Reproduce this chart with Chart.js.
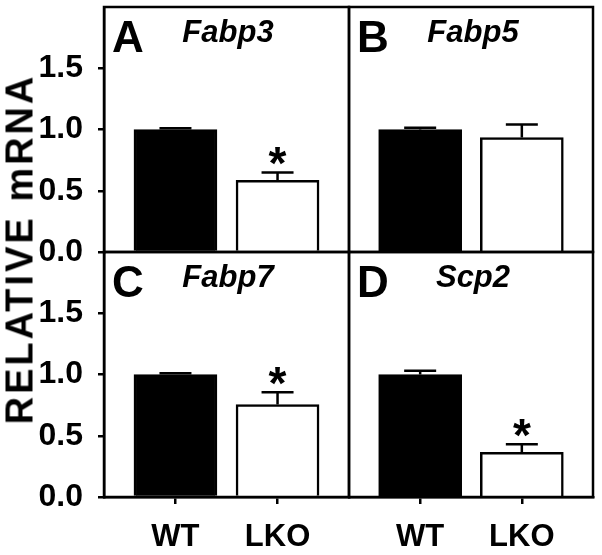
<!DOCTYPE html>
<html>
<head>
<meta charset="utf-8">
<script src="https://cdn.jsdelivr.net/npm/chart.js@4/dist/chart.umd.min.js"></script>
<style>
  html, body { margin: 0; padding: 0; background: #fff; }
  #wrap { position: relative; width: 602px; height: 555px; overflow: hidden; }
  #wrap canvas { position: absolute; }
  #ytitle {
    position: absolute; left: 20px; top: 249px;
    transform: translate(-50%, -50%) rotate(-90deg);
    font: bold 38px "Liberation Sans", Arial, sans-serif;
    letter-spacing: 3px; white-space: nowrap; color: #000;
  }
</style>
</head>
<body>
<div id="wrap">
  <canvas id="pA" width="351" height="272" style="left:0;top:0"></canvas>
  <canvas id="pB" width="248" height="254" style="left:347px;top:0"></canvas>
  <canvas id="pC" width="351" height="305" style="left:0;top:250px"></canvas>
  <canvas id="pD" width="248" height="305" style="left:347px;top:250px"></canvas>
  <div id="ytitle">RELATIVE mRNA</div>
</div>
<script>
'use strict';

// ── Data ─────────────────────────────────────────────
const categories = ['WT', 'LKO'];
const panelLetters = ['A', 'B', 'C', 'D'];
const geneNames = ['Fabp3', 'Fabp5', 'Fabp7', 'Scp2'];
const wtMean  = [1.0, 1.0, 1.0, 1.0];
const wtSem   = [0.01, 0.015, 0.01, 0.03];
const lkoMean = [0.585, 0.935, 0.755, 0.365];
const lkoSem  = [0.065, 0.105, 0.10, 0.065];
const lkoSig  = [true, false, true, true];
const yTicks  = [0, 0.5, 1.0, 1.5];

const FONT = '"Liberation Sans", Arial, sans-serif';
const LW = 2.5;

// ── Decorations: frame, error bars, asterisks, panel text ──
const panelDeco = {
  id: 'panelDeco',
  afterDatasetsDraw(chart, args, opts) {
    const { ctx, chartArea: a, scales: { x, y } } = chart;
    const ds = chart.data.datasets[0];
    ctx.save();
    ctx.strokeStyle = '#000';
    ctx.fillStyle = '#000';
    ctx.lineWidth = LW;

    // error bars (upper only)
    ds.data.forEach((pt, i) => {
      const px = x.getPixelForValue(pt.x);
      const y0 = y.getPixelForValue(pt.y);
      const y1 = y.getPixelForValue(pt.y + opts.err[i]);
      ctx.beginPath();
      ctx.moveTo(px, y0);
      ctx.lineTo(px, y1);
      ctx.moveTo(px - 16, y1);
      ctx.lineTo(px + 16, y1);
      ctx.stroke();
      if (opts.sig[i]) {
        ctx.font = 'bold 46px ' + FONT;
        ctx.textAlign = 'center';
        ctx.textBaseline = 'alphabetic';
        ctx.fillText('*', px, y1 + 7);
      }
    });

    // frame
    ctx.strokeRect(a.left, a.top, a.right - a.left, a.bottom - a.top);

    // panel letter + gene
    ctx.textBaseline = 'alphabetic';
    ctx.textAlign = 'left';
    ctx.font = 'bold 44px ' + FONT;
    ctx.fillText(opts.letter, a.left + 8, a.top + 45);
    ctx.textAlign = 'center';
    ctx.font = 'italic bold 31px ' + FONT;
    ctx.fillText(opts.gene, a.left + 124, a.top + 35);
    ctx.restore();
  }
};

function buildPanel(id, i, showY, showX, padBottom) {
  const ctx = document.getElementById(id).getContext('2d');
  return new Chart(ctx, {
    type: 'bar',
    data: {
      datasets: [{
        data: categories.map((c, k) => ({ x: k, y: k === 0 ? wtMean[i] : lkoMean[i] })),
        backgroundColor: ['#000000', '#ffffff'],
        borderColor: '#000000',
        borderWidth: LW,
        barThickness: 83
      }]
    },
    options: {
      responsive: false,
      animation: false,
      devicePixelRatio: 1,
      layout: { padding: { top: showX ? 2 : 7, right: 2, bottom: padBottom, left: showY ? 0 : 2 } },
      plugins: {
        legend: { display: false },
        tooltip: { enabled: false },
        panelDeco: {
          letter: panelLetters[i],
          gene: geneNames[i],
          err: [wtSem[i], lkoSem[i]],
          sig: [false, lkoSig[i]]
        }
      },
      scales: {
        x: {
          type: 'linear',
          min: -0.7, max: 1.7,
          offset: false,
          display: showX,
          afterBuildTicks: s => { s.ticks = categories.map((c, k) => ({ value: k })); },
          afterFit: s => {
            s.height = showX ? 58 : 0;
            s.paddingLeft = s.paddingRight = 0;
          },
          grid: { offset: false, drawOnChartArea: false, tickLength: 7, color: '#000', lineWidth: LW },
          border: { color: '#000', width: LW },
          ticks: {
            color: '#000', padding: 15,
            font: { family: FONT, size: 31, weight: 'bold' },
            callback: v => categories[v]
          }
        },
        y: {
          min: 0, max: 2,
          display: showY,
          afterBuildTicks: s => { s.ticks = yTicks.map(v => ({ value: v })); },
          afterFit: s => {
            s.width = showY ? 104 : 0;
            s.paddingTop = s.paddingBottom = 0;
          },
          grid: { drawOnChartArea: false, tickLength: 6, color: '#000', lineWidth: LW },
          border: { color: '#000', width: LW },
          ticks: {
            color: '#000', padding: 15,
            font: { family: FONT, size: 32, weight: 'bold' },
            callback: v => Number(v).toFixed(1)
          }
        }
      }
    },
    plugins: [panelDeco]
  });
}

buildPanel('pA', 0, true, false, 20);
buildPanel('pB', 1, false, false, 2);
buildPanel('pC', 2, true, true, 0);
buildPanel('pD', 3, false, true, 0);
</script>
</body>
</html>
